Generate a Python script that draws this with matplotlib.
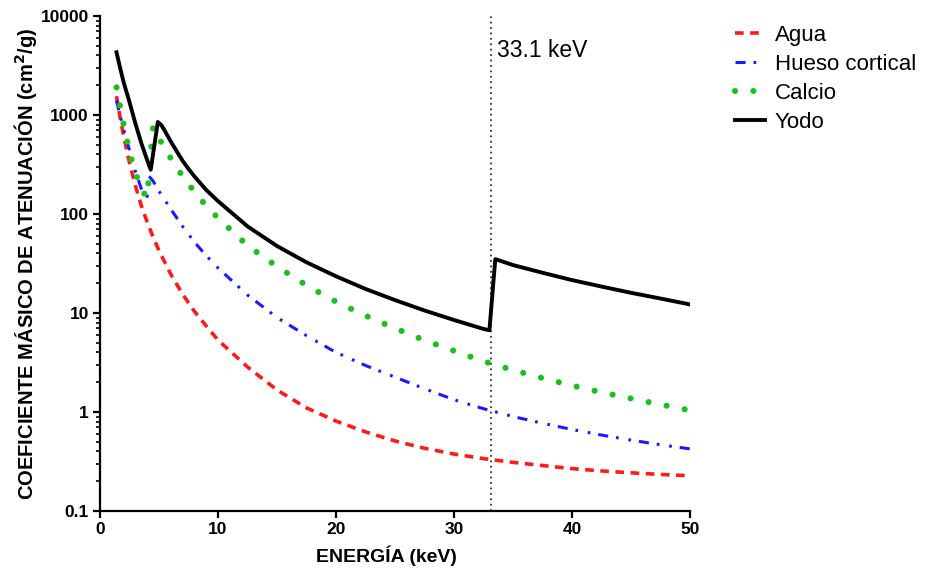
import matplotlib
matplotlib.use('Agg')
import matplotlib.pyplot as plt
from matplotlib.ticker import LogLocator, FixedLocator, NullFormatter

# mass attenuation coefficients (cm2/g)
agua_e = [1.4, 1.7, 2, 2.5, 3, 3.5, 4, 4.5, 5, 6, 7, 8, 9, 10, 12.5, 15, 17.5, 20, 22.5,
          25, 27.5, 30, 32.5, 35, 37.5, 40, 42.5, 45, 47.5, 50]
agua_mu = [1550, 950, 617, 330, 193, 122, 82.8, 58.5, 42.6, 24.6, 15.5, 10.4, 7.4, 5.33,
           2.85, 1.67, 1.1, 0.81, 0.63, 0.51, 0.43, 0.376, 0.338, 0.31, 0.288, 0.268,
           0.254, 0.243, 0.234, 0.227]

hueso_e = [1.4, 1.7, 2, 2.5, 3, 3.5, 4, 4.1, 4.5, 5, 6, 7, 8, 9, 10, 12.5, 15, 17.5, 20,
           22.5, 25, 27.5, 30, 32.5, 35, 37.5, 40, 42.5, 45, 47.5, 50]
hueso_mu = [1400, 980, 720, 440, 270, 180, 150, 245, 215, 170, 112, 75, 52, 38, 28.5,
            15.2, 9.0, 5.9, 4.0, 2.95, 2.25, 1.72, 1.33, 1.08, 0.9, 0.77, 0.666, 0.585,
            0.52, 0.467, 0.424]

calcio_e = [1.4, 1.7, 2, 2.5, 3, 3.5, 4, 4.5, 5, 5.5, 6, 7, 8, 9, 10, 12.5, 15, 17.5, 20,
            22.5, 25, 27.5, 30, 32.5, 35, 37.5, 40, 42.5, 45, 47.5, 50]
calcio_mu = [1900, 1230, 800, 420, 265, 175, 148, 760, 580, 460, 365, 240, 168, 121, 91,
             48, 29.5, 19, 13, 9.4, 7.0, 5.3, 4.15, 3.25, 2.65, 2.2, 1.85, 1.58, 1.37,
             1.19, 1.04]

yodo_e = [1.4, 1.7, 2, 2.5, 3, 3.5, 4, 4.3, 4.9, 5.2, 5.5, 6, 6.5, 7, 7.5, 8, 9, 10, 12.5,
          15, 17.5, 20, 22.5, 25, 27.5, 30, 32.5, 33.0, 33.5, 35, 37.5, 40, 42.5, 45,
          47.5, 50]
yodo_mu = [4300, 3000, 2150, 1350, 820, 520, 350, 280, 850, 790, 690, 540, 430, 345, 285,
           240, 175, 135, 75, 47.5, 32.5, 23.5, 17.5, 13.5, 10.6, 8.5, 6.9, 6.7, 35, 30.5,
           25.5, 21.5, 18.5, 16, 14, 12.2]

k_edge = 33.1
x_ticks = [0, 10, 20, 30, 40, 50]
y_ticks = [0.1, 1, 10, 100, 1000, 10000]
y_ticklabels = ['0.1', '1', '10', '100', '1000', '10000']

plt.rcParams['font.family'] = ['Liberation Sans', 'DejaVu Sans']

fig = plt.figure(figsize=(9.3, 5.68), dpi=100)
ax = fig.add_axes([100 / 930, 1 - 511 / 568, 590 / 930, 495 / 568])

ax.plot(agua_e, agua_mu, color='#ff1a1a', lw=2.6, dashes=(2.4, 1.8), label='Agua')
ax.plot(hueso_e, hueso_mu, color='#1a1aff', lw=2.2, dashes=(3.3, 2.6, 0.9, 3.2, 0.9, 2.6),
        label='Hueso cortical')
ax.plot(calcio_e, calcio_mu, color='#19c219', lw=4.4, dashes=(0.01, 3.0),
        dash_capstyle='round', label='Calcio')
ax.plot(yodo_e, yodo_mu, color='black', lw=2.8, label='Yodo')

ax.axvline(k_edge, color='#333333', lw=1.3, ls=(0, (1, 2)), zorder=0)
fig.text(497 / 930, 1 - 57 / 568, '33.1 keV', fontsize=16.5, va='baseline', ha='left')

ax.set_yscale('log')
ax.set_xlim(0, 50)
ax.set_ylim(0.1, 10000)
ax.xaxis.set_major_locator(FixedLocator(x_ticks))
ax.set_yticks(y_ticks)
ax.set_yticklabels(y_ticklabels)
ax.yaxis.set_minor_locator(LogLocator(base=10, subs=range(2, 10), numticks=20))
ax.yaxis.set_minor_formatter(NullFormatter())

for s in ['top', 'right']:
    ax.spines[s].set_visible(False)
for s in ['left', 'bottom']:
    ax.spines[s].set_linewidth(1.6)
ax.tick_params(which='major', length=5, width=1.6, labelsize=12.5, pad=3)
ax.tick_params(which='minor', length=2.8, width=1.2)
for lab in ax.get_xticklabels() + ax.get_yticklabels():
    lab.set_fontweight('bold')

ax.set_xlabel('ENERGÍA (keV)', fontsize=14, fontweight='bold')
ax.xaxis.set_label_coords(0.485, -0.07)
ax.set_ylabel('COEFICIENTE MÁSICO DE ATENUACIÓN (cm$^\\mathbf{2}$/g)', fontsize=14.5,
              fontweight='bold')
ax.yaxis.set_label_coords(-0.103, 0.5)

fig.legend(loc='upper left', bbox_to_anchor=(735 / 930, 1 - 25 / 568),
           bbox_transform=fig.transFigure, frameon=False, fontsize=16,
           handlelength=1.35, handletextpad=0.45, labelspacing=0.36,
           borderpad=0, borderaxespad=0)

fig.savefig('out.png', dpi=100)
